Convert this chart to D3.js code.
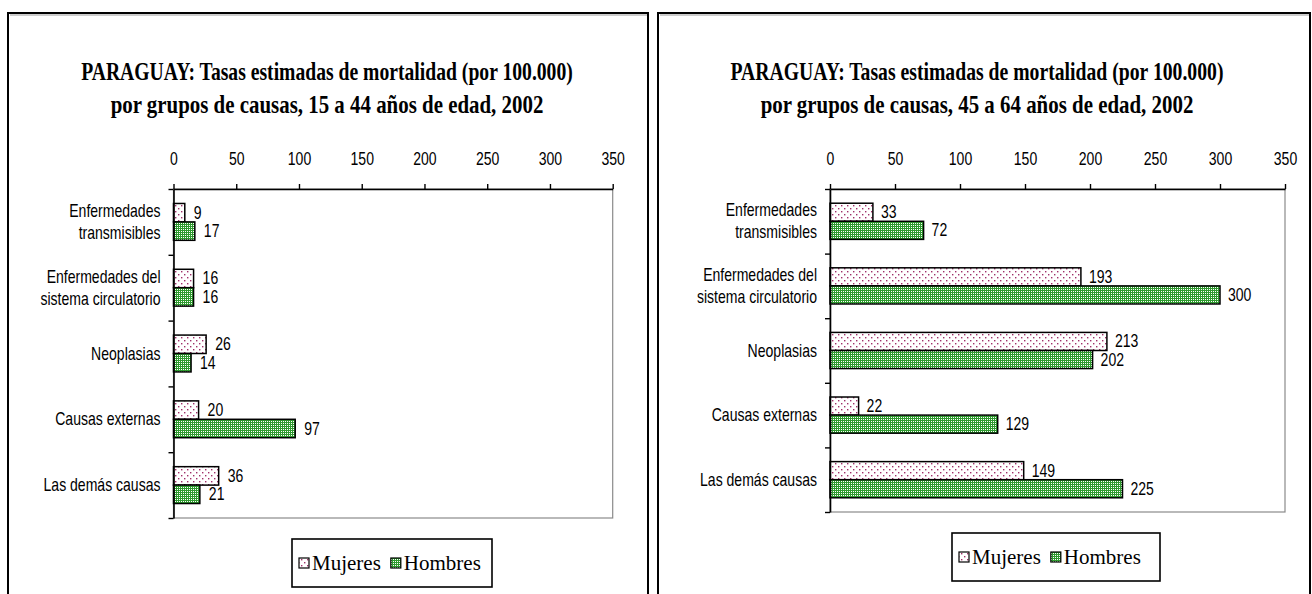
<!DOCTYPE html>
<html>
<head>
<meta charset="utf-8">
<script src="https://cdn.jsdelivr.net/npm/d3@7"></script>
<style>
  body { margin: 0; background: #fff; }
  svg { display: block; }
</style>
</head>
<body>
<svg width="1312" height="594"></svg>
<script>
// data
const causeLines = [
    ["Enfermedades", "transmisibles"],
    ["Enfermedades del", "sistema circulatorio"],
    ["Neoplasias"],
    ["Causas externas"],
    ["Las demás causas"]
];
const seriesNames = ["Mujeres", "Hombres"];
const mujeres15a44 = [9, 16, 26, 20, 36];
const hombres15a44 = [17, 16, 14, 97, 21];
const mujeres45a64 = [33, 193, 213, 22, 149];
const hombres45a64 = [72, 300, 202, 129, 225];
const xTicks = [0, 50, 100, 150, 200, 250, 300, 350];
const titleLeft = ["PARAGUAY: Tasas estimadas de mortalidad (por 100.000)",
                   "por grupos de causas, 15 a 44 años de edad, 2002"];
const titleRight = ["PARAGUAY: Tasas estimadas de mortalidad (por 100.000)",
                    "por grupos de causas, 45 a 64 años de edad, 2002"];

const sansFont = "'Liberation Sans', Arial, sans-serif";
const serifFont = "'Liberation Serif', 'Times New Roman', serif";
const squeeze = 0.78;

const svg = d3.select("svg");
const defs = svg.append("defs");

// Mujeres: white with purple dots
const pm = defs.append("pattern").attr("id", "patM")
    .attr("patternUnits", "userSpaceOnUse").attr("width", 6).attr("height", 6);
pm.append("rect").attr("width", 6).attr("height", 6).attr("fill", "#fff");
pm.append("rect").attr("x", 1).attr("y", 1).attr("width", 1.4).attr("height", 1.4).attr("fill", "#a0306a");
pm.append("rect").attr("x", 4).attr("y", 4).attr("width", 1.4).attr("height", 1.4).attr("fill", "#a0306a");

// Hombres: green with a white lattice of holes
const ph = defs.append("pattern").attr("id", "patH")
    .attr("patternUnits", "userSpaceOnUse").attr("width", 4).attr("height", 4);
ph.append("rect").attr("width", 4).attr("height", 4).attr("fill", "#2e9a2e");
[[1, 1], [3, 3], [1, 3], [3, 1]].forEach(p => {
    ph.append("rect").attr("x", p[0]).attr("y", p[1]).attr("width", 1).attr("height", 1).attr("fill", "#fff");
});

const fills = {Mujeres: "url(#patM)", Hombres: "url(#patH)"};

function narrow(g, x, y, str, anchor) {
    g.append("text")
        .attr("transform", `translate(${x},${y}) scale(${squeeze},1)`)
        .attr("text-anchor", anchor)
        .style("font-family", sansFont)
        .style("font-size", "18px")
        .attr("fill", "#000")
        .text(str);
}

function drawPanel(opt) {
    const g = svg.append("g");

    // frame
    g.append("path")
        .attr("d", `M${opt.frame[0]},600 V${opt.top} H${opt.frame[1]} V600`)
        .attr("fill", "none").attr("stroke", "#000").attr("stroke-width", 2);
    g.append("path")
        .attr("d", `M${opt.frame[0] + 2},${opt.top + 2} H${opt.frame[1] - 1}`)
        .attr("stroke", "#999").attr("stroke-width", 1);

    // title, squeezed to the reference width
    opt.title.forEach((t, i) => {
        const tg = g.append("g");
        const txt = tg.append("text")
            .attr("text-anchor", "middle")
            .style("font-family", serifFont)
            .style("font-weight", "bold")
            .style("font-size", "25px")
            .text(t);
        const sx = opt.titleW[i] / txt.node().getComputedTextLength();
        tg.attr("transform", `translate(${opt.titleX},${opt.titleY[i]}) scale(${sx},1)`);
    });

    const x = d3.scaleLinear().domain([0, 350]).range([opt.x0, opt.x1]);
    const y = d3.scaleBand().domain(d3.range(causeLines.length))
        .range([opt.y0, opt.y1]).paddingInner(0.44).paddingOuter(0.22);
    const ys = d3.scaleBand().domain(seriesNames).range([0, y.bandwidth()]);
    const yEdges = d3.scaleLinear().domain([0, causeLines.length]).range([opt.y0, opt.y1]);

    // plot area
    g.append("rect")
        .attr("x", opt.x0).attr("y", opt.y0)
        .attr("width", opt.x1 - opt.x0).attr("height", opt.y1 - opt.y0)
        .attr("fill", "#fff").attr("stroke", "#8a8a8a").attr("stroke-width", 1.2);

    // bars
    const rows = causeLines.map((c, i) => ({i, vals: [opt.mujeres[i], opt.hombres[i]]}));
    rows.forEach(r => {
        seriesNames.forEach((s, k) => {
            const v = r.vals[k];
            const by = y(r.i) + ys(s);
            g.append("rect")
                .attr("x", x(0)).attr("y", by)
                .attr("width", x(v) - x(0)).attr("height", ys.bandwidth())
                .attr("fill", fills[s]).attr("stroke", "#000").attr("stroke-width", 1.5);
            narrow(g, x(v) + opt.labelGap, by + ys.bandwidth() / 2 + 6, v, "start");
        });
    });

    // x axis on top
    const ax = g.append("g").attr("transform", `translate(0,${opt.y0})`)
        .call(d3.axisTop(x).tickValues(xTicks).tickSize(5).tickSizeOuter(0).tickPadding(19));
    ax.select(".domain").attr("stroke-width", 1.6);
    ax.selectAll(".tick line").attr("stroke-width", 1.4);
    ax.selectAll(".tick text")
        .attr("transform", `scale(${squeeze},1)`)
        .style("font-family", sansFont).style("font-size", "18px");

    // category axis
    const ay = g.append("g").attr("transform", `translate(${opt.x0},0)`)
        .call(d3.axisLeft(yEdges).ticks(causeLines.length).tickSize(5).tickSizeOuter(0).tickFormat(""));
    ay.select(".domain").attr("stroke-width", 1.6);
    ay.selectAll(".tick line").attr("stroke-width", 1.4);

    causeLines.forEach((lines, i) => {
        const c = y(i) + y.bandwidth() / 2;
        if (lines.length === 1) {
            narrow(g, opt.x0 - 13, c + 6, lines[0], "end");
        } else {
            narrow(g, opt.x0 - 13, c - 5, lines[0], "end");
            narrow(g, opt.x0 - 13, c + 17, lines[1], "end");
        }
    });

    // legend
    const L = opt.legend;
    const lg = g.append("g");
    lg.append("rect")
        .attr("x", L.x).attr("y", L.y).attr("width", L.w).attr("height", L.h)
        .attr("fill", "#fff").attr("stroke", "#000").attr("stroke-width", 1.6);
    let cx = L.x + 7;
    const cy = L.y + L.h / 2;
    seriesNames.forEach(s => {
        lg.append("rect")
            .attr("x", cx).attr("y", cy - 5).attr("width", 10).attr("height", 10)
            .attr("fill", fills[s]).attr("stroke", "#000").attr("stroke-width", 1.2);
        const t = lg.append("text")
            .attr("x", cx + 13).attr("y", cy + 7)
            .style("font-family", serifFont).style("font-size", "21px")
            .text(s);
        cx += 13 + t.node().getComputedTextLength() + 10;
    });
}

drawPanel({
    frame: [8, 648], top: 13,
    title: titleLeft, titleX: 327, titleY: [80, 113], titleW: [492, 433],
    x0: 173.5, x1: 612.7, y0: 189, y1: 518,
    mujeres: mujeres15a44, hombres: hombres15a44, labelGap: 9,
    legend: {x: 292, y: 539, w: 200, h: 48}
});

drawPanel({
    frame: [658, 1310], top: 13,
    title: titleRight, titleX: 977, titleY: [80, 113], titleW: [493, 433],
    x0: 830, x1: 1285, y0: 189, y1: 512,
    mujeres: mujeres45a64, hombres: hombres45a64, labelGap: 8,
    legend: {x: 952, y: 533, w: 208, h: 48}
});
</script>
</body>
</html>
